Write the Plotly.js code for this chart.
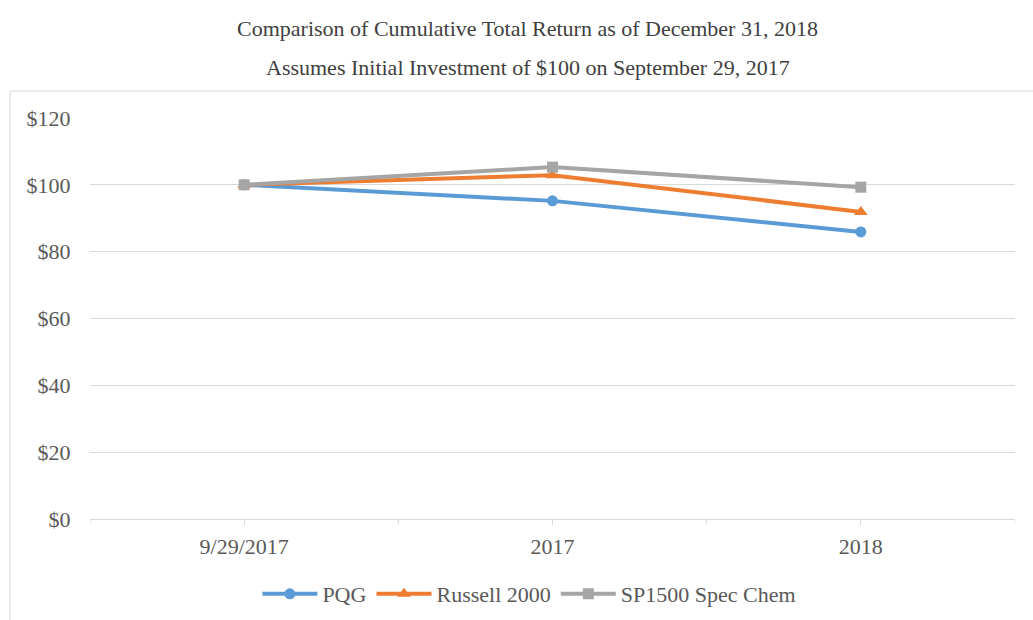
<!DOCTYPE html>
<html>
<head>
<meta charset="utf-8">
<script src="https://cdn.plot.ly/plotly-3.0.1.min.js"></script>
<style>
html,body{margin:0;padding:0;background:#fff;}
#chart{width:1033px;height:620px;}
</style>
</head>
<body>
<div id="chart"></div>
<script>
const categories = ["9/29/2017", "2017", "2018"];
const pqg = [100, 95.2, 85.9];
const russell = [100, 102.9, 91.9];
const sp1500 = [100, 105.3, 99.3];
const seriesNames = ["PQG", "Russell 2000", "SP1500 Spec Chem"];
const yTickVals = [0, 20, 40, 60, 80, 100, 120];
const yTickText = ["$0", "$20", "$40", "$60", "$80", "$100", "$120"];
const boundaries = [-0.5, 0.5, 1.5, 2.5];

const font = "Liberation Serif, Times New Roman, serif";

const traces = [
  {x: categories, y: pqg, name: seriesNames[0], type: "scatter", mode: "lines+markers",
   line: {color: "#5B9BD5", width: 4}, marker: {symbol: "circle", size: 11, color: "#5B9BD5"}},
  {x: categories, y: russell, name: seriesNames[1], type: "scatter", mode: "lines+markers",
   line: {color: "#ED7D31", width: 4}, marker: {symbol: "triangle-up", size: 12, color: "#ED7D31"}},
  {x: categories, y: sp1500, name: seriesNames[2], type: "scatter", mode: "lines+markers",
   line: {color: "#A5A5A5", width: 4}, marker: {symbol: "square", size: 11, color: "#A5A5A5"}}
];

const shapes = boundaries.map(b => ({
  type: "line", xref: "x", yref: "paper", x0: b, x1: b, y0: 0, y1: -0.013,
  line: {color: "#D9D9D9", width: 1}
}));
shapes.push({
  type: "rect", xref: "paper", yref: "paper",
  x0: -80/925, x1: 1.05, y0: -0.3, y1: (519-91)/401,
  line: {color: "#D9D9D9", width: 1}, fillcolor: "rgba(0,0,0,0)", layer: "below"
});

const layout = {
  width: 1033, height: 620,
  margin: {l: 90, r: 18, t: 118, b: 101, autoexpand: false},
  paper_bgcolor: "#fff", plot_bgcolor: "#fff",
  font: {family: font, color: "#595959", size: 22},
  showlegend: true,
  legend: {orientation: "h", x: 0.475, xanchor: "center", y: -0.187, yanchor: "middle",
           font: {family: font, size: 22, color: "#595959"}, itemwidth: 55, traceorder: "normal"},
  xaxis: {type: "category", range: [-0.5, 2.5], showgrid: false, zeroline: false,
          showline: true, linecolor: "#D9D9D9", linewidth: 1,
          ticks: "outside", ticklen: 5, tickcolor: "#D9D9D9", ticklabelstandoff: 3,
          tickfont: {family: font, size: 22, color: "#595959"}, fixedrange: true},
  yaxis: {range: [0, 120], tickvals: yTickVals, ticktext: yTickText,
          showgrid: true, gridcolor: "#D9D9D9", gridwidth: 1, zeroline: false,
          showline: false, ticks: "outside", ticklen: 14, tickcolor: "rgba(0,0,0,0)",
          tickfont: {family: font, size: 22, color: "#595959"}, fixedrange: true},
  shapes: shapes,
  annotations: [
    {text: "Comparison of Cumulative Total Return as of December 31, 2018", xref: "paper", yref: "paper",
     x: 0.473, y: (519-28)/401, xanchor: "center", yanchor: "middle", showarrow: false,
     font: {family: font, size: 22, color: "#404040"}},
    {text: "Assumes Initial Investment of $100 on September 29, 2017", xref: "paper", yref: "paper",
     x: 0.473, y: (519-67)/401, xanchor: "center", yanchor: "middle", showarrow: false,
     font: {family: font, size: 22, color: "#404040"}}
  ]
};

Plotly.newPlot("chart", traces, layout, {displayModeBar: false, staticPlot: true});
</script>
</body>
</html>
